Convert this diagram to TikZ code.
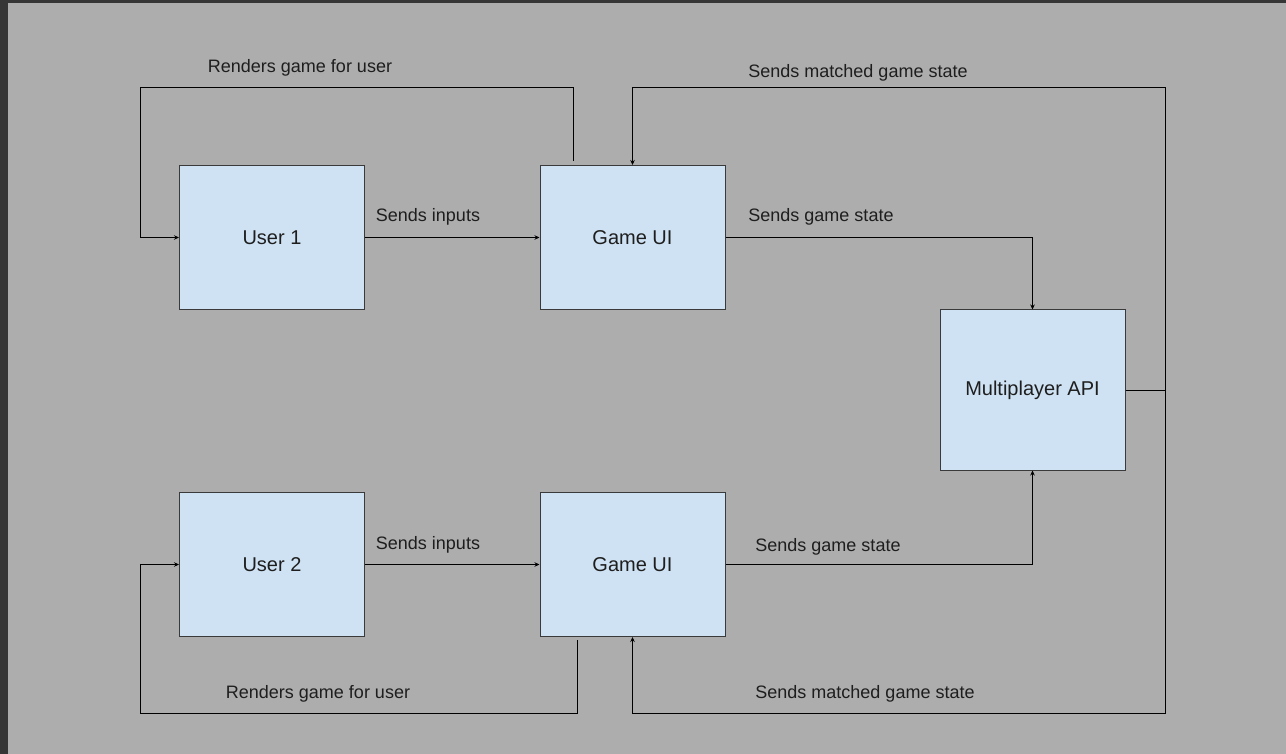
\documentclass[tikz,border=0pt]{standalone}
\usepackage{fontspec}
\setmainfont{Liberation Sans}
\usetikzlibrary{arrows.meta}
\definecolor{bg}{HTML}{ADADAD}
\definecolor{frame}{HTML}{363636}
\definecolor{boxfill}{HTML}{CFE2F3}
\definecolor{boxline}{HTML}{3A3A3A}
\definecolor{textc}{HTML}{1E1E1E}
\begin{document}
\begin{tikzpicture}[x=1pt,y=-1pt,
  box/.style={draw=boxline, fill=boxfill, line width=1pt, minimum width=185pt, minimum height=144pt, inner sep=0pt, text=textc, font=\fontsize{20}{24}\selectfont},
  conn/.style={draw=black, line width=1pt, -{Stealth[length=5pt,width=4.5pt]}},
  lbl/.style={font=\fontsize{18}{21}\selectfont, text=textc, inner sep=0pt, anchor=base}]
\fill[frame] (0,0) rectangle (1286,754);
\fill[bg] (8,3) rectangle (1286,754);
\useasboundingbox (0,0) rectangle (1286,754);

\node[box] (u1) at (272,237.5) {User 1};
\node[box] (g1) at (632.5,237.5) {Game UI};
\node[box, minimum height=160pt] (api) at (1032.5,390) {Multiplayer API};
\node[box] (u2) at (272,564.5) {User 2};
\node[box] (g2) at (632.5,564.5) {Game UI};

\coordinate (r1) at (573,161);
\coordinate (r2) at (577,640);

\draw[conn] (r1) -- (573,88) -- (140,88) -- (140,237.5) -- (u1.west);
\draw[conn] (u1) -- (g1);
\draw[conn] (g1.east) -| (api.north);
\draw[conn] (api.east) -| (1165,88) -| (g1.north);
\draw[conn] (api.east) -| (1165,713) -| (g2.south);
\draw[conn] (g2.east) -| (api.south);
\draw[conn] (u2) -- (g2);
\draw[conn] (r2) -- (577,713) -| (140,564.5) -- (u2.west);

\node[lbl] (l1) at (300,73) {Renders game for user};
\node[lbl] (l2) at (858,78) {Sends matched game state};
\node[lbl] (l3) at (428,222) {Sends inputs};
\node[lbl] (l4) at (821,222) {Sends game state};
\node[lbl] (l5) at (428,549) {Sends inputs};
\node[lbl] (l6) at (828,551) {Sends game state};
\node[lbl] (l7) at (318,698) {Renders game for user};
\node[lbl] (l8) at (865,698) {Sends matched game state};
\end{tikzpicture}
\end{document}
